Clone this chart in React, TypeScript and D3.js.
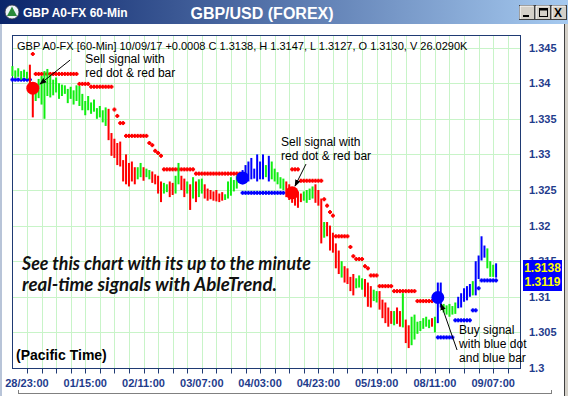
import React from "react";
import * as d3 from "d3";

const W = 568;
const H = 396;

// ---- DATA ----
const highs = [
  1.3424, 1.3418, 1.3421, 1.3417, 1.3419, 1.3416, 1.3426, 1.3396, 1.3399, 1.3406,
  1.3410, 1.3417, 1.3420, 1.3412, 1.3405, 1.3408, 1.3400, 1.3398, 1.3397, 1.3392,
  1.3395, 1.3390, 1.3397, 1.3396, 1.3385, 1.3375, 1.3382, 1.3373, 1.3377, 1.3365,
  1.3368, 1.3362, 1.3366, 1.3364, 1.3330, 1.3322, 1.3316, 1.3318, 1.3292, 1.3300,
  1.3288, 1.3290, 1.3282, 1.3282, 1.3288, 1.3282, 1.3280, 1.3278, 1.3276, 1.3272,
  1.3270, 1.3262, 1.3260, 1.3258, 1.3262, 1.3260, 1.3270, 1.3288, 1.3270, 1.3266,
  1.3262, 1.3258, 1.3268, 1.3262, 1.3265, 1.3266, 1.3258, 1.3252, 1.3250, 1.3248,
  1.3250, 1.3245, 1.3247, 1.3244, 1.3262, 1.3268, 1.3264, 1.3270, 1.3272, 1.3278,
  1.3285, 1.3290, 1.3295, 1.3280, 1.3300, 1.3290, 1.3300, 1.3285, 1.3298, 1.3290,
  1.3280, 1.3275, 1.3268, 1.3266, 1.3262, 1.3258, 1.3252, 1.3250, 1.3248, 1.3245,
  1.3248, 1.3250, 1.3252, 1.3255, 1.3258, 1.3250, 1.3238, 1.3205, 1.3205, 1.3200,
  1.3190, 1.3175, 1.3165, 1.3150, 1.3143, 1.3140, 1.3128, 1.3132, 1.3126, 1.3130,
  1.3126, 1.3125, 1.3120, 1.3115, 1.3110, 1.3108, 1.3108, 1.3096, 1.3092, 1.3085,
  1.3080, 1.3080, 1.3085, 1.3080, 1.3105, 1.3068, 1.3060, 1.3072, 1.3075, 1.3065,
  1.3066, 1.3070, 1.3072, 1.3068, 1.3070, 1.3072, 1.3120, 1.3120, 1.3090, 1.3088,
  1.3090, 1.3087, 1.3092, 1.3100, 1.3105, 1.3112, 1.3115, 1.3118, 1.3122, 1.3150,
  1.3158, 1.3185, 1.3172, 1.3168, 1.3150, 1.3145, 1.3147,
];

const lows = [
  1.3410, 1.3407, 1.3409, 1.3405, 1.3408, 1.3406, 1.3392, 1.3352, 1.3375, 1.3379,
  1.3370, 1.3350, 1.3382, 1.3380, 1.3383, 1.3387, 1.3378, 1.3382, 1.3385, 1.3372,
  1.3378, 1.3370, 1.3375, 1.3368, 1.3362, 1.3355, 1.3362, 1.3357, 1.3360, 1.3350,
  1.3352, 1.3345, 1.3340, 1.3320, 1.3298, 1.3295, 1.3285, 1.3283, 1.3262, 1.3258,
  1.3255, 1.3262, 1.3258, 1.3265, 1.3268, 1.3263, 1.3268, 1.3265, 1.3260, 1.3258,
  1.3245, 1.3233, 1.3245, 1.3247, 1.3240, 1.3243, 1.3245, 1.3258, 1.3250, 1.3240,
  1.3245, 1.3222, 1.3238, 1.3233, 1.3240, 1.3245, 1.3238, 1.3235, 1.3237, 1.3235,
  1.3234, 1.3233, 1.3235, 1.3236, 1.3238, 1.3242, 1.3248, 1.3252, 1.3260, 1.3258,
  1.3262, 1.3262, 1.3265, 1.3266, 1.3262, 1.3265, 1.3265, 1.3268, 1.3262, 1.3265,
  1.3262, 1.3258, 1.3252, 1.3250, 1.3240, 1.3236, 1.3232, 1.3228, 1.3225, 1.3233,
  1.3235, 1.3232, 1.3236, 1.3238, 1.3232, 1.3228, 1.3175, 1.3183, 1.3185, 1.3165,
  1.3162, 1.3140, 1.3132, 1.3127, 1.3120, 1.3118, 1.3108, 1.3102, 1.3112, 1.3113,
  1.3110, 1.3100, 1.3086, 1.3085, 1.3094, 1.3092, 1.3082, 1.3070, 1.3063, 1.3058,
  1.3062, 1.3060, 1.3062, 1.3058, 1.3057, 1.3035, 1.3028, 1.3032, 1.3040, 1.3048,
  1.3052, 1.3055, 1.3058, 1.3056, 1.3058, 1.3050, 1.3063, 1.3085, 1.3078, 1.3075,
  1.3072, 1.3075, 1.3076, 1.3084, 1.3085, 1.3093, 1.3095, 1.3100, 1.3102, 1.3102,
  1.3125, 1.3151, 1.3155, 1.3140, 1.3128, 1.3128, 1.3127,
];

// bar colour codes, in runs: g = green, r = red, b = blue
const barColorRuns = [
  "gggggg", "rr", "ggggggggggggggggggggggggg", "rrrrrrrrrr", "gg", "r", "gg", "rrrr",
  "gg", "rr", "gg", "rr", "g", "r", "g", "r", "gg", "rrrrrrr", "ggggg", "r",
  "bbbbbbbb", "g", "b", "ggggg", "rrrrrr", "gggg", "rrr", "g", "rrrrr", "g", "rrrr",
  "ggg", "rrr", "gg", "rrrrr", "g", "rr", "g", "rr", "ggggggg", "r", "g", "bb",
  "ggggg", "bbbbb", "g", "bbbb", "ggg", "b",
];

// stop dots: [fromBar, toBar, level]
const redStopRuns: [number, number, number][] = [
  [7, 7, 1.3441], [8, 22, 1.3413], [23, 26, 1.3399], [27, 34, 1.3395],
  [35, 35, 1.3363], [36, 36, 1.3354], [37, 38, 1.3344], [39, 46, 1.3326],
  [47, 47, 1.3316], [48, 48, 1.3313], [49, 49, 1.3305], [50, 50, 1.3302],
  [51, 51, 1.3298], [52, 62, 1.3279], [63, 78, 1.3273],
  [96, 98, 1.3279], [99, 106, 1.3263], [107, 107, 1.3237], [108, 108, 1.3228],
  [109, 109, 1.3219], [110, 110, 1.3214], [111, 115, 1.3185], [116, 116, 1.3170],
  [117, 117, 1.3157], [118, 120, 1.3153], [121, 121, 1.3143], [122, 122, 1.3140],
  [123, 125, 1.3130], [126, 130, 1.3115], [131, 138, 1.3108], [139, 144, 1.3094],
];
const blueStopRuns: [number, number, number][] = [
  [0, 6, 1.3405], [79, 93, 1.3246], [146, 151, 1.3043], [152, 157, 1.3067],
  [158, 159, 1.3081], [160, 160, 1.3112], [161, 166, 1.3123],
];

// signal dots: bar index, price, colour
const signalBars = [7, 79, 96, 146];
const signalPrices = [1.3393, 1.3267, 1.3246, 1.3099];
const signalKinds = ["r", "b", "r", "b"];

const yTickValues = [1.3, 1.305, 1.31, 1.315, 1.32, 1.325, 1.33, 1.335, 1.34, 1.345];
const yTickLabels = ["1.3", "1.305", "1.31", "1.315", "1.32", "1.325", "1.33", "1.335", "1.34", "1.345"];
const xLabelBars = [5, 25, 45, 65, 85, 105, 125, 145, 165];
const xLabels = ["28/23:00", "01/15:00", "02/11:00", "03/07:00", "04/03:00", "04/23:00", "05/19:00", "08/11:00", "09/07:00"];

const lastClose = "1.3138";
const lastStop = "1.3119";
const headerText = "GBP A0-FX [60-Min] 10/09/17  +0.0008 C 1.3138, H 1.3147, L 1.3127, O 1.3130, V 26.0290K";
const promoLines = ["See this chart with its up to the minute", "real-time signals with AbleTrend."];

// annotations: text anchor (bar, price), arrow tail (bar, price), arrow head (bar, price)
const annLines = [
  ["Sell signal with", "red dot & red bar"],
  ["Sell signal with", "red dot & red bar"],
  ["Buy signal", "with blue dot", "and blue bar"],
];
const annText: [number, number][] = [[25, 1.3429], [92.2, 1.3312], [153.3, 1.3048]];
const annTail: [number, number][] = [[19.8, 1.34325], [100.75, 1.32864], [152.6, 1.30253]];
const annHead: [number, number][] = [[9.47, 1.33988], [97, 1.32556], [147.1, 1.30899]];

const COLORS: Record<string, string> = { g: "#11ee11", r: "#ff0000", b: "#0000ff" };

const PL = 12.5, PR = 520.5, PT = 35.5, PB = 368.5;

export default function App() {
  const n = highs.length;
  const x = d3.scaleLinear().domain([0, 166]).range([12.4, 496.1]);
  const y = d3.scaleLinear().domain([1.3, 1.345]).range([368, 47.6]);
  const colors = barColorRuns.join("").split("");
  const expand = (runs: [number, number, number][]) =>
    runs.flatMap(([a, b, v]) => d3.range(a, b + 1).map((i) => ({ i, v })));
  const redStops = expand(redStopRuns);
  const blueStops = expand(blueStopRuns);
  const tickBars = d3.range(5, 171, 5);

  const plus = (cx: number, cy: number, c: string, k: string) => (
    <g key={k} fill={c}>
      <rect x={cx - 2} y={cy - 1} width={4} height={2} />
      <rect x={cx - 1} y={cy - 2} width={2} height={4} />
    </g>
  );

  const font = "'Liberation Sans', Arial, sans-serif";
  const promoFont = "Lato, 'Open Sans', sans-serif";

  return (
    <svg width={W} height={H} style={{ position: "fixed", left: 0, top: 0 }} fontFamily={font}>
      <defs>
        <linearGradient id="tb" x1="0" x2="1" y1="0" y2="0">
          <stop offset="0" stopColor="#0a246a" />
          <stop offset="1" stopColor="#a6caf0" />
        </linearGradient>
        <marker id="ah" viewBox="0 0 10 10" refX="9" refY="5" markerWidth="7" markerHeight="7" orient="auto">
          <path d="M0,1 L10,5 L0,9 z" fill="#000" />
        </marker>
      </defs>
      <rect x={0} y={0} width={W} height={H} fill="#ffffff" />
      {/* window frame */}
      <rect x={0} y={0} width={2} height={H} fill="#b8c4d8" />
      <rect x={565} y={0} width={3} height={H} fill="#d4d0c8" />
      <line x1={564.5} x2={564.5} y1={24} y2={H} stroke="#404040" />
      <line x1={18} x2={552} y1={393.5} y2={393.5} stroke="#808080" />
      <line x1={18.5} x2={18.5} y1={390} y2={394} stroke="#808080" />
      <line x1={551.5} x2={551.5} y1={390} y2={394} stroke="#808080" />

      {/* title bar */}
      <rect x={0} y={0} width={W} height={24} fill="url(#tb)" />
      <circle cx={12} cy={12} r={7} fill="#eef2f8" stroke="#334" strokeWidth={0.8} />
      <path d="M12,6.5 L17,16 L7,16 Z" fill="#2a8a3a" />
      <text x={23} y={17} fill="#fff" fontWeight="bold" fontSize={12}>GBP A0-FX 60-Min</text>
      <text x={262} y={18.5} fill="#fff" fontWeight="bold" fontSize={16} textAnchor="middle">GBP/USD (FOREX)</text>
      {["_", "", "X"].map((s, k) => (
        <g key={k}>
          <rect x={519.5 + k * 16} y={5.5} width={15} height={14} fill="#d4d0c8" stroke="#404040" />
          <line x1={520 + k * 16} x2={533.5 + k * 16} y1={6} y2={6} stroke="#fff" />
          <line x1={520 + k * 16} x2={520 + k * 16} y1={6} y2={19} stroke="#fff" />
          {k === 0 && <rect x={523} y={15} width={6} height={2} fill="#000" />}
          {k === 1 && <rect x={539.5} y={8.5} width={8} height={8} fill="none" stroke="#000" strokeWidth={1} />}
          {k === 1 && <rect x={539.5} y={8.5} width={8} height={2} fill="#000" />}
          {k === 2 && <text x={558} y={17} fontSize={12} fontWeight="bold" textAnchor="middle">X</text>}
        </g>
      ))}

      {/* grid */}
      {yTickValues.map((v) => (
        <line key={"gy" + v} x1={PL} x2={PR} y1={Math.round(y(v)) + 0.5} y2={Math.round(y(v)) + 0.5} stroke="#c8f4c8" />
      ))}
      {tickBars.map((b) => (
        <line key={"gx" + b} x1={Math.round(x(b)) + 0.5} x2={Math.round(x(b)) + 0.5} y1={PT} y2={PB} stroke="#c8f4c8" />
      ))}

      {/* plot frame */}
      <rect x={PL} y={PT} width={PR - PL} height={PB - PT} fill="none" stroke="#1f3a73" />

      {/* x ticks */}
      {tickBars.map((b) => (
        <line key={"tx" + b} x1={Math.round(x(b)) + 0.5} x2={Math.round(x(b)) + 0.5} y1={PB} y2={PB + 5} stroke="#1f3a73" />
      ))}
      {xLabelBars.map((b, k) => (
        <text key={"xl" + b} x={x(b)} y={387} fontSize={11} fontWeight="bold" fill="#1f3c8c" textAnchor="middle">{xLabels[k]}</text>
      ))}

      {/* y labels */}
      {yTickValues.map((v, k) => (
        <text key={"yl" + v} x={529} y={y(v) + 4} fontSize={11} fontWeight="bold" fill="#1f3c8c">{yTickLabels[k]}</text>
      ))}

      {/* header */}
      <text x={17} y={50} fontSize={11} fill="#000">{headerText}</text>

      {/* stops */}
      {redStops.map((d) => plus(x(d.i), y(d.v), COLORS.r, "rs" + d.i))}
      {blueStops.map((d) => plus(x(d.i), y(d.v), COLORS.b, "bs" + d.i))}

      {/* bars */}
      {d3.range(n).map((i) => (
        <rect key={"b" + i} x={x(i) - 1} y={y(highs[i])} width={2} height={Math.max(1, y(lows[i]) - y(highs[i]))} fill={COLORS[colors[i]]} />
      ))}

      {/* signal circles */}
      {signalBars.map((b, k) => (
        <circle key={"sg" + k} cx={x(b)} cy={y(signalPrices[k])} r={6.5} fill={COLORS[signalKinds[k]]} />
      ))}

      {/* annotations */}
      {annLines.map((lines, k) => (
        <g key={"an" + k}>
          <text x={x(annText[k][0])} y={y(annText[k][1])} fontSize={12} fill="#000">
            {lines.map((s, j) => (
              <tspan key={j} x={x(annText[k][0])} dy={j === 0 ? 0 : 14}>{s}</tspan>
            ))}
          </text>
          <line x1={x(annTail[k][0])} y1={y(annTail[k][1])} x2={x(annHead[k][0])} y2={y(annHead[k][1])} stroke="#000" strokeWidth={1} markerEnd="url(#ah)" />
        </g>
      ))}

      {/* promo text */}
      <text x={22} y={270} fontSize={18} fontStyle="italic" fontWeight="bold" fill="#111" fontFamily={promoFont} textLength={289} lengthAdjust="spacingAndGlyphs">{promoLines[0]}</text>
      <text x={22} y={291} fontSize={18} fontStyle="italic" fontWeight="bold" fill="#111" fontFamily={promoFont} textLength={255} lengthAdjust="spacingAndGlyphs">{promoLines[1]}</text>

      <text x={16} y={360} fontSize={14} fontWeight="bold" fill="#000">(Pacific Time)</text>

      {/* last price box */}
      <rect x={523} y={260} width={39} height={31} fill="#0000ff" />
      <text x={542.5} y={272} fontSize={12} fontWeight="bold" fill="#ffff00" textAnchor="middle">{lastClose}</text>
      <text x={542.5} y={286} fontSize={12} fontWeight="bold" fill="#ffff00" textAnchor="middle">{lastStop}</text>
    </svg>
  );
}
